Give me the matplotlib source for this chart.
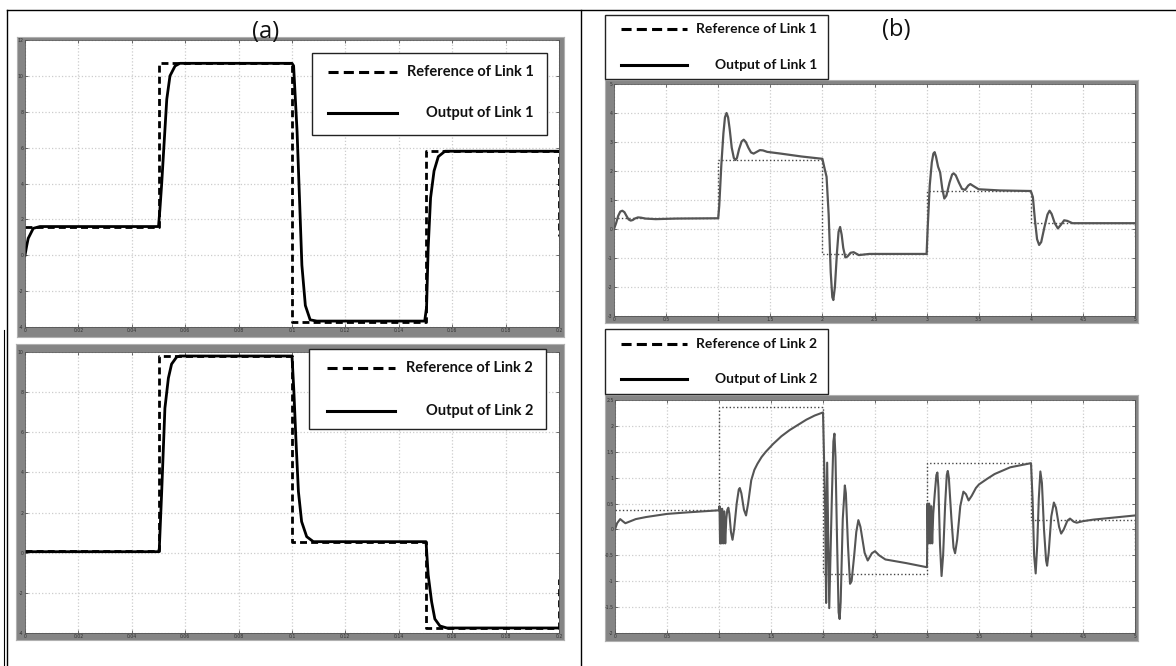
import matplotlib
matplotlib.use("Agg")
import matplotlib.pyplot as plt
from matplotlib.patches import Rectangle
from matplotlib.lines import Line2D

W, H = 1176, 666

# ---------------- data: panel (a) ----------------
a_xticks = [0, 0.02, 0.04, 0.06, 0.08, 0.1, 0.12, 0.14, 0.16, 0.18, 0.2]
a_xlabels = ["0", "0.02", "0.04", "0.06", "0.08", "0.1", "0.12", "0.14", "0.16", "0.18", "0.2"]
a1_yticks = [-4, -2, 0, 2, 4, 6, 8, 10, 12]
a2_yticks = [-4, -2, 0, 2, 4, 6, 8, 10]

a1_ref_t = [0, 0.05, 0.05, 0.1, 0.1, 0.15, 0.15, 0.2, 0.2]
a1_ref_v = [1.6, 1.6, 10.7, 10.7, -3.7, -3.7, 5.8, 5.8, 1.1]
a1_out = [(0, 0), (0.0006, 0.5), (0.0012, 0.94), (0.0031, 1.5), (0.0056, 1.6), (0.05, 1.6),
          (0.0505, 2.5), (0.0512, 4.0), (0.052, 6.0), (0.0531, 8.7), (0.0543, 10.0),
          (0.0562, 10.55), (0.058, 10.7), (0.1, 10.7), (0.1006, 10.56), (0.1019, 6.9),
          (0.1028, 3.2), (0.1037, -0.55), (0.105, -2.8), (0.1068, -3.6), (0.1093, -3.67),
          (0.1497, -3.67), (0.1504, -2.9), (0.151, 0.4), (0.1519, 3.2), (0.1532, 4.7),
          (0.1548, 5.5), (0.1573, 5.8), (0.2, 5.8)]

a2_ref_t = [0, 0.05, 0.05, 0.1, 0.1, 0.15, 0.15, 0.2, 0.2]
a2_ref_v = [0.1, 0.1, 9.8, 9.8, 0.55, 0.55, -3.75, -3.75, -1.3]
a2_out = [(0, 0.05), (0.05, 0.05), (0.0503, 0.2), (0.0512, 3.05), (0.0524, 7.2),
          (0.0537, 8.7), (0.0549, 9.4), (0.0568, 9.75), (0.058, 9.8), (0.1, 9.8),
          (0.1007, 8.05), (0.1015, 5.55), (0.1024, 3.05), (0.1036, 1.55), (0.1055, 0.8),
          (0.108, 0.55), (0.1502, 0.55), (0.151, -1.1), (0.1523, -2.45), (0.1535, -3.3),
          (0.1554, -3.65), (0.158, -3.75), (0.2, -3.75)]

# ---------------- data: panel (b) ----------------
b_xticks = [0, 0.5, 1, 1.5, 2, 2.5, 3, 3.5, 4, 4.5, 5]
b_xlabels = ["0", "0.5", "1", "1.5", "2", "2.5", "3", "3.5", "4", "4.5", "5"]
b1_yticks = [-3, -2, -1, 0, 1, 2, 3, 4, 5]
b2_yticks = [-2, -1.5, -1, -0.5, 0, 0.5, 1, 1.5, 2, 2.5]
b2_ylabels = ["-2", "-1.5", "-1", "-0.5", "0", "0.5", "1", "1.5", "2", "2.5"]

b1_ref_t = [0, 1, 1, 2, 2, 3, 3, 4, 4, 5, 5]
b1_ref_v = [0.38, 0.38, 2.38, 2.38, -0.86, -0.86, 1.31, 1.31, 0.2, 0.2, -0.3]
b1_out = [(0, 0), (0.02, 0.2), (0.04, 0.45), (0.06, 0.6), (0.08, 0.63), (0.1, 0.58),
          (0.12, 0.45), (0.14, 0.33), (0.16, 0.29), (0.18, 0.31), (0.2, 0.36), (0.23, 0.4),
          (0.26, 0.39), (0.3, 0.36), (0.4, 0.34), (0.6, 0.36), (1.0, 0.37),
          (1.01, 0.8), (1.03, 2.2), (1.05, 3.3), (1.065, 3.85), (1.08, 4.0), (1.095, 3.85),
          (1.11, 3.45), (1.13, 2.8), (1.15, 2.45), (1.165, 2.38), (1.18, 2.45), (1.2, 2.75),
          (1.225, 3.02), (1.245, 3.08), (1.265, 3.0), (1.29, 2.8), (1.315, 2.64), (1.34, 2.6),
          (1.37, 2.66), (1.4, 2.72), (1.43, 2.71), (1.47, 2.66), (1.6, 2.6), (1.8, 2.5),
          (2.0, 2.42),
          (2.02, 2.1), (2.04, 1.8), (2.06, 0.5), (2.08, -1.5), (2.095, -2.35), (2.105, -2.45),
          (2.12, -2.0), (2.14, -0.8), (2.155, -0.1), (2.17, 0.07), (2.185, -0.2), (2.2, -0.65),
          (2.22, -0.98), (2.24, -0.95), (2.27, -0.82), (2.3, -0.8), (2.35, -0.9), (2.45, -0.86),
          (3.0, -0.86),
          (3.01, 0.0), (3.03, 1.5), (3.05, 2.3), (3.065, 2.6), (3.077, 2.65), (3.09, 2.5),
          (3.11, 2.15), (3.13, 1.95), (3.15, 1.4), (3.17, 1.05), (3.19, 1.15), (3.22, 1.6),
          (3.245, 1.88), (3.26, 1.92), (3.28, 1.85), (3.31, 1.6), (3.34, 1.38), (3.37, 1.35),
          (3.4, 1.5), (3.42, 1.55), (3.45, 1.48), (3.5, 1.37), (3.7, 1.33), (4.0, 1.31),
          (4.02, 1.1), (4.04, 0.3), (4.06, -0.35), (4.08, -0.55), (4.1, -0.45), (4.13, 0.05),
          (4.16, 0.5), (4.18, 0.63), (4.2, 0.52), (4.23, 0.2), (4.26, 0.02), (4.29, 0.15),
          (4.32, 0.3), (4.35, 0.28), (4.4, 0.2), (4.6, 0.2), (5.0, 0.2)]

b2_ref_t = [0, 1, 1, 2, 2, 3, 3, 4, 4, 5, 5]
b2_ref_v = [0.37, 0.37, 2.37, 2.37, -0.87, -0.87, 1.29, 1.29, 0.19, 0.19, -0.4]
b2_out = [(0, 0), (0.02, 0.12), (0.05, 0.2), (0.08, 0.15), (0.1, 0.12), (0.15, 0.16),
          (0.2, 0.2), (0.3, 0.24), (0.5, 0.3), (0.7, 0.33), (1.0, 0.37),
          (1.005, 0.45), (1.01, -0.27), (1.015, 0.4), (1.02, -0.27), (1.03, 0.4), (1.04, -0.27),
          (1.05, 0.35), (1.06, -0.27), (1.07, 0.2), (1.08, 0.38), (1.09, 0.42), (1.1, 0.3),
          (1.115, -0.05), (1.13, -0.2), (1.145, 0.0), (1.17, 0.5), (1.19, 0.77), (1.2, 0.8),
          (1.215, 0.7), (1.24, 0.38), (1.26, 0.27), (1.28, 0.5), (1.31, 0.95), (1.34, 1.15),
          (1.37, 1.27), (1.41, 1.4), (1.45, 1.5), (1.52, 1.65), (1.6, 1.8), (1.68, 1.92),
          (1.76, 2.02), (1.84, 2.12), (1.92, 2.2), (2.0, 2.26),
          (2.02, 0.5), (2.03, -1.42), (2.04, 1.29), (2.06, -1.52), (2.085, 0.6), (2.1, 1.7),
          (2.11, 1.85), (2.12, 1.4), (2.135, -0.2), (2.15, -1.6), (2.16, -1.73), (2.17, -1.4),
          (2.19, 0.2), (2.21, 0.85), (2.22, 0.7), (2.24, -0.3), (2.26, -1.05), (2.275, -1.0),
          (2.3, -0.5), (2.32, -0.05), (2.34, 0.18), (2.36, 0.05), (2.4, -0.45), (2.43, -0.6),
          (2.47, -0.46), (2.5, -0.42), (2.54, -0.5), (2.6, -0.58), (2.8, -0.65), (3.0, -0.73),
          (3.005, 0.5), (3.01, -0.27), (3.02, 0.5), (3.03, -0.27), (3.04, 0.45), (3.05, -0.27),
          (3.06, 0.3), (3.075, 0.7), (3.09, 1.05), (3.1, 1.1), (3.11, 0.8), (3.125, -0.3),
          (3.14, -0.9), (3.155, -0.5), (3.175, 0.5), (3.19, 1.05), (3.2, 1.13), (3.21, 1.0),
          (3.235, 0.2), (3.255, -0.35), (3.27, -0.46), (3.29, -0.2), (3.32, 0.45), (3.35, 0.73),
          (3.375, 0.68), (3.4, 0.56), (3.43, 0.65), (3.47, 0.8), (3.5, 0.87), (3.58, 0.98),
          (3.65, 1.07), (3.8, 1.2), (4.0, 1.28),
          (4.015, 0.6), (4.03, -0.5), (4.045, -0.85), (4.06, -0.3), (4.075, 0.6), (4.09, 1.12),
          (4.105, 0.9), (4.125, 0.0), (4.145, -0.6), (4.155, -0.7), (4.17, -0.45), (4.195, 0.25),
          (4.22, 0.52), (4.24, 0.42), (4.27, 0.05), (4.29, -0.08), (4.315, 0.0), (4.35, 0.17),
          (4.375, 0.21), (4.41, 0.15), (4.44, 0.13), (4.5, 0.16), (4.6, 0.19), (4.8, 0.23),
          (5.0, 0.27)]

legend_a1 = ["Reference of Link 1", "Output of Link 1"]
legend_a2 = ["Reference of Link 2", "Output of Link 2"]
legend_b1 = ["Reference of Link 1", "Output of Link 1"]
legend_b2 = ["Reference of Link 2", "Output of Link 2"]
panel_labels = ["(a)", "(b)"]

# ---------------- layout helpers ----------------
fig = plt.figure(figsize=(W / 100, H / 100), dpi=100)
fig.patch.set_facecolor("white")


def box(x0, y0, x1, y1):
    return [x0 / W, 1 - y1 / H, (x1 - x0) / W, (y1 - y0) / H]


def fx(x):
    return x / W


def fy(y):
    return 1 - y / H


def split(pairs):
    return [p[0] for p in pairs], [p[1] for p in pairs]


FRAME = "#858585"
GRID = "#cccccc"


def make_panel(frame_px, plot_px, xlim, ylim, xticks, xlabels, yticks, ylabels):
    fr = fig.add_axes(box(*frame_px))
    fr.set_facecolor(FRAME)
    fr.set_xticks([])
    fr.set_yticks([])
    for s in fr.spines.values():
        s.set_color("#b0b0b0")
        s.set_linewidth(0.8)
    ax = fig.add_axes(box(*plot_px))
    ax.set_facecolor("white")
    ax.set_xlim(*xlim)
    ax.set_ylim(*ylim)
    ax.set_xticks(xticks)
    ax.set_xticklabels(xlabels)
    ax.set_yticks(yticks)
    ax.set_yticklabels(ylabels)
    ax.tick_params(direction="in", length=2.5, width=0.5, labelsize=3.3,
                   colors="#333333", pad=1, top=True, right=True)
    ax.grid(True, color=GRID, linestyle=":", linewidth=0.9)
    for s in ax.spines.values():
        s.set_color("#555555")
        s.set_linewidth(0.6)
    return ax


def draw_legend(bx, dash_y, solid_y, line_x0, line_x1, text_right, labels, fs, lw):
    fig.add_artist(Rectangle((fx(bx[0]), fy(bx[3])), (bx[2] - bx[0]) / W, (bx[3] - bx[1]) / H,
                             transform=fig.transFigure, facecolor="white",
                             edgecolor="#222222", linewidth=1.0, zorder=10))
    fig.add_artist(Line2D([fx(line_x0), fx(line_x1)], [fy(dash_y), fy(dash_y)],
                          transform=fig.transFigure, color="black", linewidth=lw,
                          linestyle=(0, (3.3, 1.7)), zorder=11))
    fig.add_artist(Line2D([fx(line_x0), fx(line_x1)], [fy(solid_y), fy(solid_y)],
                          transform=fig.transFigure, color="black", linewidth=lw, zorder=11))
    for y, lab in ((dash_y, labels[0]), (solid_y, labels[1])):
        fig.text(fx(text_right), fy(y), lab, ha="right", va="center", fontsize=fs,
                 fontweight="bold", family=["Lato", "DejaVu Sans"], color="#111111", zorder=12)


# ---------------- panel (a) top ----------------
ax = make_panel((17, 37, 564, 337), (25, 40, 559, 327), (0, 0.2), (-4, 12),
                a_xticks, a_xlabels, a1_yticks, [str(v) for v in a1_yticks])
t, v = split(a1_out)
ax.plot(t, v, color="black", linewidth=2.0, solid_joinstyle="round")
ax.plot(a1_ref_t, a1_ref_v, color="black", linewidth=2.0, linestyle=(0, (2.5, 1.5)))

# ---------------- panel (a) bottom ----------------
ax = make_panel((16, 344, 564, 640), (25, 352, 559, 633), (0, 0.2), (-4, 10),
                a_xticks, a_xlabels, a2_yticks, [str(v) for v in a2_yticks])
t, v = split(a2_out)
ax.plot(t, v, color="black", linewidth=2.0, solid_joinstyle="round")
ax.plot(a2_ref_t, a2_ref_v, color="black", linewidth=2.0, linestyle=(0, (2.5, 1.5)))

# ---------------- panel (b) top ----------------
ax = make_panel((605, 80, 1138, 323), (614, 84, 1135, 316), (0, 5), (-3, 5),
                b_xticks, b_xlabels, b1_yticks, [str(v) for v in b1_yticks])
ax.plot(b1_ref_t, b1_ref_v, color="#444444", linewidth=1.0, linestyle=":")
t, v = split(b1_out)
ax.plot(t, v, color="#555555", linewidth=1.6, solid_joinstyle="round")

# ---------------- panel (b) bottom ----------------
ax = make_panel((605, 395, 1138, 641), (615, 400, 1135, 633), (0, 5), (-2, 2.5),
                b_xticks, b_xlabels, b2_yticks, b2_ylabels)
ax.plot(b2_ref_t, b2_ref_v, color="#444444", linewidth=1.0, linestyle=":")
t, v = split(b2_out)
ax.plot(t, v, color="#555555", linewidth=1.5, solid_joinstyle="round")

# ---------------- legends ----------------
draw_legend((312, 53, 547, 135), 72, 113, 328, 397, 534, legend_a1, 10.5, 2.2)
draw_legend((309, 349, 546, 429), 368, 411, 327, 395, 533, legend_a2, 10.5, 2.2)
draw_legend((605, 15, 828, 79), 29, 65, 621, 687, 817, legend_b1, 10, 2.2)
draw_legend((605, 329, 828, 394), 344, 379, 621, 687, 817, legend_b2, 10, 2.2)

# ---------------- panel labels and outer frame ----------------
fig.text(fx(266), fy(32), panel_labels[0], ha="center", va="center", fontsize=17,
         family=["Open Sans", "DejaVu Sans"], color="#111111", zorder=12)
fig.text(fx(896), fy(30), panel_labels[1], ha="center", va="center", fontsize=17,
         family=["Open Sans", "DejaVu Sans"], color="#111111", zorder=12)

fig.add_artist(Line2D([fx(7), fx(1176)], [fy(10), fy(10)], transform=fig.transFigure,
                      color="black", linewidth=1.0))
fig.add_artist(Line2D([fx(7), fx(7)], [fy(10), fy(666)], transform=fig.transFigure,
                      color="black", linewidth=1.0))
fig.add_artist(Line2D([fx(3.5), fx(3.5)], [fy(330), fy(666)], transform=fig.transFigure,
                      color="black", linewidth=0.8))
fig.add_artist(Line2D([fx(581), fx(581)], [fy(10), fy(666)], transform=fig.transFigure,
                      color="black", linewidth=1.0))

fig.savefig("out.png", dpi=100, facecolor="white")
